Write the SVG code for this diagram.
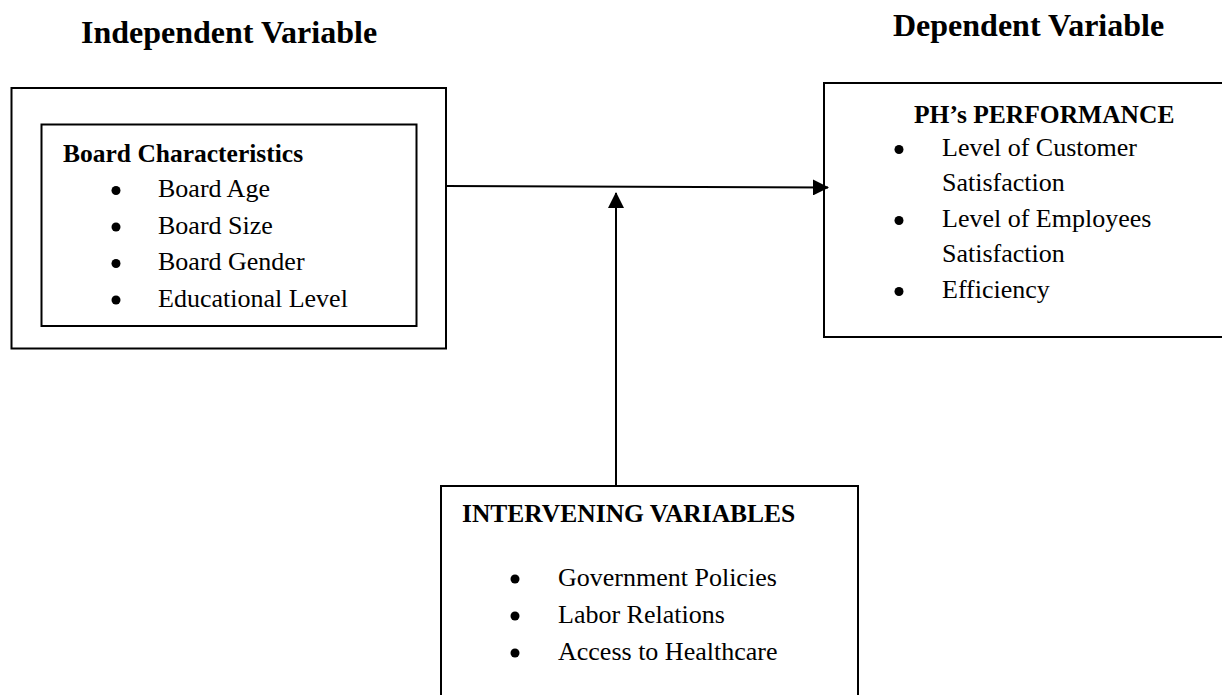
<svg xmlns="http://www.w3.org/2000/svg" width="1222" height="695" viewBox="0 0 1222 695">
<style>
.box{fill:#fff;stroke:#000;stroke-width:2}
.t{font-family:"Liberation Serif","Times New Roman",serif;fill:#000}
.title{font-size:32px;font-weight:bold}
.h{font-size:25.5px;font-weight:bold}
.b{font-size:26px}
.dot{fill:#000}
.con{stroke:#000;stroke-width:2;fill:none}
</style>
<defs>
<marker id="arr" viewBox="0 0 16 16" refX="15" refY="8" markerWidth="16" markerHeight="16" markerUnits="userSpaceOnUse" orient="auto">
<path d="M0,0 L16,8 L0,16 Z" fill="#000"/>
</marker>
</defs>
<rect width="1222" height="695" fill="#fff"/>
<g id="title-independent"><text class="t title" x="81" y="43">Independent Variable</text></g>
<g id="title-dependent"><text class="t title" x="893" y="36">Dependent Variable</text></g>
<g id="node-board">
<rect class="box" x="11.5" y="88" width="434.5" height="260.5"/>
<rect class="box" x="41.5" y="124.5" width="375" height="201.5"/>
<text class="t h" x="63" y="162">Board Characteristics</text>
<g class="dot">
<circle cx="116" cy="190.5" r="4.5"/>
<circle cx="116" cy="227" r="4.5"/>
<circle cx="116" cy="263.5" r="4.5"/>
<circle cx="116" cy="300" r="4.5"/>
</g>
<g class="t b">
<text x="158" y="197">Board Age</text>
<text x="158" y="233.5">Board Size</text>
<text x="158" y="270">Board Gender</text>
<text x="158" y="306.5">Educational Level</text>
</g>
</g>
<g id="node-performance">
<rect class="box" x="824" y="83" width="410" height="254"/>
<text class="t h" x="914" y="123">PH’s PERFORMANCE</text>
<g class="dot">
<circle cx="899" cy="149.5" r="4.5"/>
<circle cx="899" cy="220.5" r="4.5"/>
<circle cx="899" cy="291.5" r="4.5"/>
</g>
<g class="t b">
<text x="942" y="156">Level of Customer</text>
<text x="942" y="191">Satisfaction</text>
<text x="942" y="227">Level of Employees</text>
<text x="942" y="262">Satisfaction</text>
<text x="942" y="298">Efficiency</text>
</g>
</g>
<g id="node-intervening">
<rect class="box" x="441" y="486" width="417" height="230"/>
<text class="t h" x="462" y="522">INTERVENING VARIABLES</text>
<g class="dot">
<circle cx="515" cy="579" r="4.5"/>
<circle cx="515" cy="616" r="4.5"/>
<circle cx="515" cy="653" r="4.5"/>
</g>
<g class="t b">
<text x="558" y="585.5">Government Policies</text>
<text x="558" y="622.5">Labor Relations</text>
<text x="558" y="659.5">Access to Healthcare</text>
</g>
</g>
<g id="connectors">
<line class="con" x1="446" y1="186" x2="828" y2="187.5" marker-end="url(#arr)"/>
<line class="con" x1="616" y1="486" x2="616" y2="193" marker-end="url(#arr)"/>
</g>
</svg>
